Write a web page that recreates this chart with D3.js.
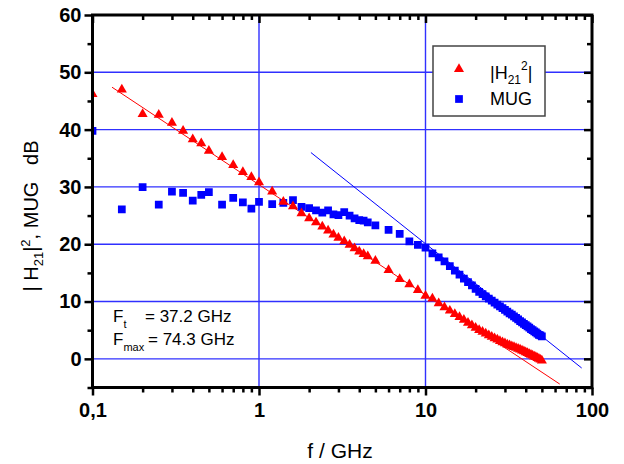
<!DOCTYPE html>
<html>
<head>
<meta charset="utf-8">
<script src="https://cdn.jsdelivr.net/npm/d3@7"></script>
<style>
  html, body { margin: 0; padding: 0; background: #fff; }
  svg { display: block; font-family: "Liberation Sans", Arial, sans-serif; }
</style>
</head>
<body>
<svg id="chart" width="624" height="464"></svg>
<script>
// Frequency sweep points (GHz)
const freqGHz = [0.1, 0.15, 0.2, 0.25, 0.3, 0.35, 0.4, 0.45, 0.5, 0.6, 0.7, 0.8, 0.9, 1.0,
  1.2, 1.4, 1.6, 1.8, 2.0, 2.2, 2.4, 2.6, 2.8, 3.0, 3.25, 3.5, 3.75, 4.0, 4.25, 4.5,
  5, 6, 7, 8, 9, 10, 11, 12, 13, 14, 15, 16, 17, 18, 19, 20, 21, 22, 23, 24, 25, 26, 27,
  28, 29, 30, 31, 32, 33, 34, 35, 36, 37, 38, 39, 40, 41, 42, 43, 44, 45, 46, 47, 48, 49, 50];

// |H21|^2 in dB
const h21Db = [46.2, 47.0, 42.7, 42.6, 41.2, 39.8, 38.3, 37.6, 36.3, 35.2, 33.8, 32.6, 31.7, 30.8,
  29.2, 27.4, 26.6, 25.4, 24.5, 23.8, 23.1, 22.4, 21.7, 21.1, 20.5, 19.9, 19.3, 18.7, 18.3, 17.9,
  17.1, 15.5, 13.9, 13.0, 12.0, 11.0, 10.5, 9.7, 9.0, 8.4, 7.8, 7.3, 6.8, 6.3, 5.85, 5.4, 5.0, 4.7,
  4.4, 4.1, 3.85, 3.6, 3.35, 3.1, 2.9, 2.7, 2.5, 2.35, 2.2, 2.05, 1.9, 1.75, 1.6, 1.45, 1.3, 1.15,
  1.0, 0.85, 0.7, 0.55, 0.4, 0.3, 0.15, 0.0, -0.15, -0.3];

// Maximum unilateral gain in dB
const mugDb = [39.8, 26.1, 29.95, 26.9, 29.2, 28.95, 27.6, 28.6, 29.1, 26.9, 28.1, 27.3, 26.2, 27.4,
  27.0, 27.2, 27.7, 26.5, 26.3, 25.9, 25.5, 25.9, 25.2, 25.1, 25.6, 25.0, 24.5, 24.2, 24.1, 23.8,
  23.3, 22.5, 21.8, 20.5, 19.9, 19.4, 18.4, 17.7, 17.0, 16.2, 15.4, 14.7, 14.0, 13.4, 12.8, 12.2,
  11.7, 11.3, 10.9, 10.5, 10.15, 9.8, 9.45, 9.15, 8.85, 8.55, 8.25, 7.95, 7.7, 7.4, 7.15, 6.9, 6.6,
  6.35, 6.1, 5.9, 5.65, 5.45, 5.2, 5.0, 4.8, 4.6, 4.4, 4.2, 4.1, 3.9];

// -20 dB/decade extrapolation lines (endpoints)
const h21FitF = [0.131, 64];
const h21FitDb = [47.4, -4.4];
const mugFitF = [2.05, 86.7];
const mugFitDb = [36.0, -1.6];

// Axis ticks
const xMajorTicks = [0.1, 1, 10, 100];
const xTickLabels = ["0,1", "1", "10", "100"];
const yMajorTicks = [0, 10, 20, 30, 40, 50, 60];
const yMinorTicks = [-5, 5, 15, 25, 35, 45, 55];
const xGrid = [1, 10];
const yGrid = [0, 10, 20, 30, 40, 50];

const svg = d3.select("#chart");
const L = 92.5, R = 592, T = 15, B = 387.5;

const x = d3.scaleLog().domain([0.1, 100]).range([L, R]);
const y = d3.scaleLinear().domain([-5, 60]).range([B, T]);

const xMinorTicks = [];
[0.1, 1, 10].forEach(dec => { for (let k = 2; k <= 9; k++) xMinorTicks.push(dec * k); });

const blue = "#0000ff", red = "#ff0000", gridBlue = "#3030ff";

svg.append("defs").append("clipPath").attr("id", "plotClip")
  .append("rect").attr("x", L).attr("y", T).attr("width", R - L).attr("height", B - T);

// Grid
const grid = svg.append("g").attr("clip-path", "url(#plotClip)");
grid.selectAll("line.h").data(yGrid).join("line")
  .attr("x1", L).attr("x2", R).attr("y1", d => y(d)).attr("y2", d => y(d))
  .attr("stroke", gridBlue).attr("stroke-width", 1.4);
grid.selectAll("line.v").data(xGrid).join("line")
  .attr("y1", T).attr("y2", B).attr("x1", d => x(d)).attr("x2", d => x(d))
  .attr("stroke", gridBlue).attr("stroke-width", 1.4);

const plot = svg.append("g").attr("clip-path", "url(#plotClip)");

// Extrapolation lines
const line = d3.line().x(d => x(d[0])).y(d => y(d[1]));
plot.append("path").datum(h21FitF.map((f, i) => [f, h21FitDb[i]]))
  .attr("d", line).attr("fill", "none").attr("stroke", red).attr("stroke-width", 1);
plot.append("path").datum(mugFitF.map((f, i) => [f, mugFitDb[i]]))
  .attr("d", line).attr("fill", "none").attr("stroke", blue).attr("stroke-width", 1);

// Markers
const triangle = d3.symbol().type(d3.symbolTriangle).size(44);
const square = d3.symbol().type(d3.symbolSquare).size(60);

plot.selectAll("path.mug").data(freqGHz.map((f, i) => [f, mugDb[i]])).join("path")
  .attr("class", "mug").attr("d", square)
  .attr("transform", d => `translate(${x(d[0])},${y(d[1])})`)
  .attr("fill", blue);

plot.selectAll("path.h21").data(freqGHz.map((f, i) => [f, h21Db[i]])).join("path")
  .attr("class", "h21").attr("d", triangle)
  .attr("transform", d => `translate(${x(d[0])},${y(d[1])})`)
  .attr("fill", red);

// Axes
const tickStroke = 2.5;
function styleAxis(g) {
  g.select(".domain").remove();
  g.selectAll(".tick line").attr("stroke", "#000").attr("stroke-width", tickStroke);
  g.selectAll(".tick text").attr("fill", "#000").attr("font-size", 20).attr("font-weight", "bold")
    .attr("font-family", "Liberation Sans, Arial, sans-serif");
}

svg.append("g").attr("transform", `translate(0,${B})`)
  .call(d3.axisBottom(x).tickValues(xMajorTicks).tickSize(8).tickPadding(7)
    .tickFormat((d, i) => xTickLabels[i]))
  .call(styleAxis);
svg.append("g").attr("transform", `translate(0,${B})`)
  .call(d3.axisBottom(x).tickValues(xMinorTicks).tickSize(5).tickFormat(""))
  .call(styleAxis);

svg.append("g").attr("transform", `translate(${L},0)`)
  .call(d3.axisLeft(y).tickValues(yMajorTicks).tickSize(8).tickPadding(3))
  .call(styleAxis);
svg.append("g").attr("transform", `translate(${L},0)`)
  .call(d3.axisLeft(y).tickValues(yMinorTicks).tickSize(5).tickFormat(""))
  .call(styleAxis);

// Mirrored inward ticks on top and right
svg.append("g").attr("transform", `translate(0,${T})`)
  .call(d3.axisTop(x).tickValues(xMajorTicks).tickSize(-8).tickFormat(""))
  .call(styleAxis);
svg.append("g").attr("transform", `translate(0,${T})`)
  .call(d3.axisTop(x).tickValues(xMinorTicks).tickSize(-5).tickFormat(""))
  .call(styleAxis);
svg.append("g").attr("transform", `translate(${R},0)`)
  .call(d3.axisRight(y).tickValues(yMajorTicks).tickSize(-8).tickFormat(""))
  .call(styleAxis);
svg.append("g").attr("transform", `translate(${R},0)`)
  .call(d3.axisRight(y).tickValues(yMinorTicks).tickSize(-5).tickFormat(""))
  .call(styleAxis);

// Frame
svg.append("rect").attr("x", L).attr("y", T).attr("width", R - L).attr("height", B - T)
  .attr("fill", "none").attr("stroke", "#000").attr("stroke-width", 3);

// Axis titles
svg.append("text").attr("x", 340).attr("y", 458).attr("text-anchor", "middle")
  .attr("font-size", 21).text("f / GHz");

const yt = svg.append("text").attr("transform", "translate(38,216) rotate(-90)")
  .attr("text-anchor", "middle").attr("font-size", 20);
yt.append("tspan").text("| H");
yt.append("tspan").attr("font-size", 13).attr("dy", 5).text("21");
yt.append("tspan").attr("dy", -5).text("|");
yt.append("tspan").attr("font-size", 13).attr("dy", -8).text("2");
yt.append("tspan").attr("dy", 8).text(", MUG\u00A0\u00A0\u00A0dB");

// Legend
const lg = svg.append("g");
lg.append("rect").attr("x", 433).attr("y", 46).attr("width", 112).attr("height", 70)
  .attr("fill", "#fff").attr("stroke", "#444").attr("stroke-width", 1.5);
lg.append("path").attr("d", triangle).attr("transform", "translate(459,69)").attr("fill", red);
lg.append("path").attr("d", square).attr("transform", "translate(459,99)").attr("fill", blue);
const l1 = lg.append("text").attr("x", 490).attr("y", 79).attr("font-size", 18);
l1.append("tspan").text("|H");
l1.append("tspan").attr("font-size", 12).attr("dy", 5).text("21");
l1.append("tspan").attr("font-size", 12).attr("dy", -14).text("2");
l1.append("tspan").attr("dy", 9).text("|");
lg.append("text").attr("x", 490).attr("y", 105).attr("font-size", 18).text("MUG");

// Cut-off frequency annotation
const a1 = svg.append("text").attr("x", 113).attr("y", 322).attr("font-size", 17);
a1.append("tspan").text("F");
a1.append("tspan").attr("font-size", 11).attr("dy", 6).text("t");
svg.append("text").attr("x", 145).attr("y", 322).attr("font-size", 17).text("= 37.2 GHz");
const a2 = svg.append("text").attr("x", 113).attr("y", 345).attr("font-size", 17);
a2.append("tspan").text("F");
a2.append("tspan").attr("font-size", 11).attr("dy", 6).text("max");
svg.append("text").attr("x", 148).attr("y", 345).attr("font-size", 17).text("= 74.3 GHz");
</script>
</body>
</html>
